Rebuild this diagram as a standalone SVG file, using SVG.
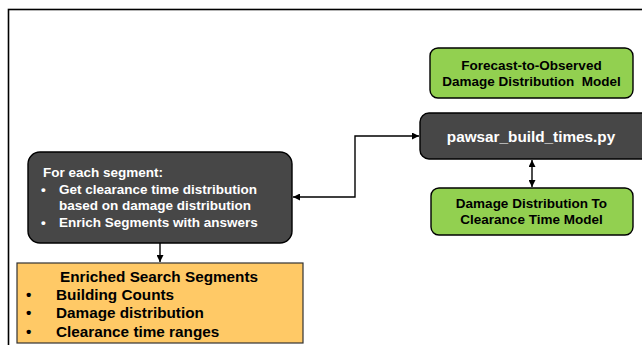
<svg xmlns="http://www.w3.org/2000/svg" width="642" height="345" viewBox="0 0 642 345">
  <style>
    .frame { fill: none; stroke: #000; stroke-width: 1.6; }
    .dark { fill: #474747; stroke: #000; stroke-width: 1.4; }
    .green { fill: #92d050; stroke: #000; stroke-width: 1.4; }
    .orange { fill: #ffc966; stroke: #333; stroke-width: 1.2; }
    .t { font-family: "Liberation Sans", Arial, sans-serif; font-weight: bold; white-space: pre; }
    .wt { fill: #ffffff; }
    .bt { fill: #000000; }
    .conn { fill: none; stroke: #000; stroke-width: 1.4; }
  </style>
  <defs>
    <marker id="arrow" viewBox="0 0 10 10" refX="10" refY="5" markerWidth="7" markerHeight="7" markerUnits="userSpaceOnUse" orient="auto-start-reverse">
      <path d="M0,0 L10,5 L0,10 z" fill="#000"/>
    </marker>
  </defs>

  <rect width="642" height="345" fill="#ffffff"/>
  <rect class="frame" x="8.5" y="9.5" width="700" height="400"/>

  <g id="forecast-model">
    <rect class="green" x="430" y="48" width="203" height="50" rx="8"/>
    <text class="t bt" font-size="13.5" text-anchor="middle" x="531.5" y="70">Forecast-to-Observed</text>
    <text class="t bt" font-size="13.5" text-anchor="middle" x="531.5" y="86">Damage Distribution  Model</text>
  </g>

  <g id="build-times">
    <rect class="dark" x="420" y="113" width="230" height="46" rx="9"/>
    <text class="t wt" font-size="15.3" text-anchor="middle" x="531" y="142">pawsar_build_times.py</text>
  </g>

  <g id="clearance-model">
    <rect class="green" x="431" y="188" width="202" height="47" rx="8"/>
    <text class="t bt" font-size="13.5" text-anchor="middle" x="531.5" y="208">Damage Distribution To</text>
    <text class="t bt" font-size="13.5" text-anchor="middle" x="531.5" y="224">Clearance Time Model</text>
  </g>

  <g id="segment-loop">
    <rect class="dark" x="28" y="152" width="264" height="91" rx="12"/>
    <text class="t wt" font-size="13.5" x="43" y="177">For each segment:</text>
    <text class="t wt" font-size="13.5" x="41" y="194">•</text>
    <text class="t wt" font-size="13.5" x="59" y="194">Get clearance time distribution</text>
    <text class="t wt" font-size="13.5" x="59" y="210">based on damage distribution</text>
    <text class="t wt" font-size="13.5" x="41" y="227">•</text>
    <text class="t wt" font-size="13.5" x="59" y="227">Enrich Segments with answers</text>
  </g>

  <g id="enriched-segments">
    <rect class="orange" x="17" y="263" width="286" height="80"/>
    <text class="t bt" font-size="15.3" text-anchor="middle" x="159" y="282">Enriched Search Segments</text>
    <text class="t bt" font-size="15.3" x="26" y="300">•</text>
    <text class="t bt" font-size="15.3" x="56" y="300">Building Counts</text>
    <text class="t bt" font-size="15.3" x="26" y="318">•</text>
    <text class="t bt" font-size="15.3" x="56" y="318">Damage distribution</text>
    <text class="t bt" font-size="15.3" x="26" y="337">•</text>
    <text class="t bt" font-size="15.3" x="56" y="337">Clearance time ranges</text>
  </g>

  <g id="connectors">
    <path class="conn" d="M419,136 H355 V197 H293" marker-start="url(#arrow)" marker-end="url(#arrow)"/>
    <path class="conn" d="M532,160 V187" marker-start="url(#arrow)" marker-end="url(#arrow)"/>
    <path class="conn" d="M160,243 V262" marker-end="url(#arrow)"/>
  </g>
</svg>
